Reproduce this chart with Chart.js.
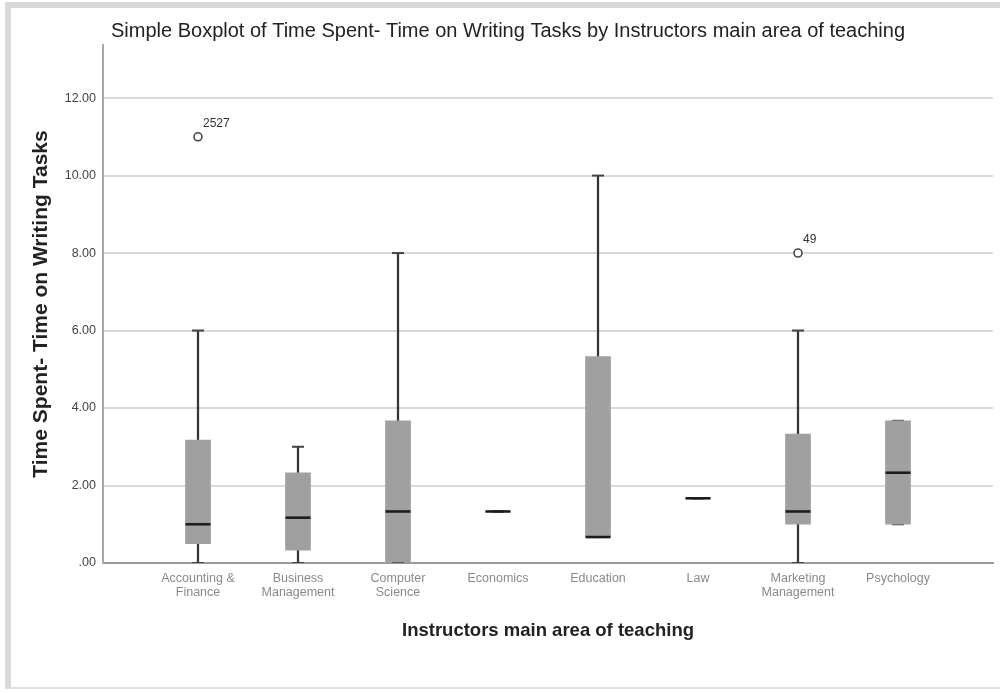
<!DOCTYPE html>
<html>
<head>
<meta charset="utf-8">
<script src="https://cdn.jsdelivr.net/npm/chart.js@4/dist/chart.umd.min.js"></script>
<style>
  html, body { margin: 0; padding: 0; background: #ffffff; }
  #frame {
    position: absolute; left: 5px; top: 2px; width: 995px; height: 687px;
    border-top: 6px solid #d9d9d9; border-left: 6px solid #d9d9d9; border-bottom: 2px solid #e0e0e0;
    box-sizing: border-box;
  }
  #chart { position: absolute; left: 0; top: 0; }
</style>
</head>
<body>
<div id="frame"></div>
<canvas id="chart" width="1000" height="693"></canvas>
<script>
// Teaching areas along the x axis
const categories = ['Accounting & Finance', 'Business Management', 'Computer Science', 'Economics',
                    'Education', 'Law', 'Marketing Management', 'Psychology'];
// Two-line tick labels for each area
const categoryLabels = [['Accounting &', 'Finance'], ['Business', 'Management'], ['Computer', 'Science'],
                        'Economics', 'Education', 'Law', ['Marketing', 'Management'], 'Psychology'];

// Five-number summaries (hours)
const whiskerLow  = [0.00, 0.00, 0.00, 1.33, 0.67, 1.67, 0.00, 1.00];
const quartile1   = [0.50, 0.33, 0.00, 1.33, 0.67, 1.67, 1.00, 1.00];
const medians     = [1.00, 1.17, 1.33, 1.33, 0.67, 1.67, 1.33, 2.33];
const quartile3   = [3.17, 2.33, 3.67, 1.33, 5.33, 1.67, 3.33, 3.67];
const whiskerHigh = [6.00, 3.00, 8.00, 1.33, 10.00, 1.67, 6.00, 3.67];

// Outlying cases: category index, value, case id
const outlierCategory = [0, 6];
const outlierValues   = [11, 8];
const outlierIds      = ['2527', '49'];

// Value axis ticks
const yTicks = [0, 2, 4, 6, 8, 10, 12];

const FONT = "'Liberation Sans', Arial, sans-serif";

const boxData = categories.map((_, i) => ({ x: i, y: [quartile1[i], quartile3[i]] }));
const lowWhiskers = categories.map((_, i) => ({ x: i, y: [whiskerLow[i], quartile1[i]] }));
const highWhiskers = categories.map((_, i) => ({ x: i, y: [quartile3[i], whiskerHigh[i]] }));
const capData = categories.flatMap((_, i) => [{ x: i, y: whiskerLow[i] }, { x: i, y: whiskerHigh[i] }]);
const medianData = categories.map((_, i) => ({ x: i, y: medians[i] }));
const outlierData = outlierValues.map((v, k) => ({ x: outlierCategory[k], y: v }));

// Case ids written beside the outlier circles
const outlierLabels = {
  id: 'outlierLabels',
  afterDatasetsDraw(chart) {
    const meta = chart.getDatasetMeta(chart.data.datasets.findIndex(d => d.label === 'Outliers'));
    const ctx = chart.ctx;
    ctx.save();
    ctx.font = '12px ' + FONT;
    ctx.fillStyle = '#333333';
    ctx.textAlign = 'left';
    ctx.textBaseline = 'middle';
    meta.data.forEach((pt, k) => {
      ctx.fillText(outlierIds[k], pt.x + 5, pt.y - 13);
    });
    ctx.restore();
  }
};

new Chart(document.getElementById('chart'), {
  type: 'bar',
  data: {
    datasets: [
      { label: 'Lower whisker', data: lowWhiskers, backgroundColor: '#333333', barThickness: 1.6,
        grouped: false, order: 5 },
      { label: 'Upper whisker', data: highWhiskers, backgroundColor: '#333333', barThickness: 1.6,
        grouped: false, order: 5 },
      { type: 'scatter', label: 'Caps', data: capData, pointStyle: 'line', radius: 6,
        borderColor: '#444444', borderWidth: 2, hoverRadius: 6, order: 4 },
      { label: 'Box', data: boxData, backgroundColor: '#a0a0a1', borderWidth: 0,
        barThickness: 25, grouped: false, order: 3 },
      { type: 'scatter', label: 'Median', data: medianData, pointStyle: 'line', radius: 12.5,
        borderColor: '#1c1c1c', borderWidth: 2.6, hoverRadius: 12.5, order: 2 },
      { type: 'scatter', label: 'Outliers', data: outlierData, pointStyle: 'circle', radius: 4,
        borderColor: '#444444', borderWidth: 1.6, backgroundColor: '#ffffff', order: 1 }
    ]
  },
  options: {
    responsive: false,
    animation: false,
    events: [],
    layout: { autoPadding: false, padding: { left: 23, right: 7, top: 0, bottom: 0 } },
    plugins: {
      legend: { display: false },
      tooltip: { enabled: false },
      title: {
        display: true,
        text: 'Simple Boxplot of Time Spent- Time on Writing Tasks by Instructors main area of teaching',
        color: '#222222',
        font: { family: FONT, size: 20, weight: 'normal', lineHeight: 1.2 },
        padding: { top: 19, bottom: 2 }
      }
    },
    scales: {
      x: {
        type: 'linear',
        offset: false,
        min: -0.95,
        max: 7.95,
        afterFit(scale) {
          scale.height = 130;
          scale.paddingLeft = 0;
          scale.paddingRight = 0;
        },
        afterBuildTicks(scale) { scale.ticks = categories.map((_, i) => ({ value: i })); },
        ticks: {
          autoSkip: false,
          maxRotation: 0,
          padding: 8,
          color: '#8a8a8a',
          font: { family: FONT, size: 12.5, lineHeight: 1.15 },
          callback: (v) => categoryLabels[v]
        },
        grid: { display: false, drawTicks: false, offset: false },
        border: { display: true, color: '#9a9a9a', width: 2 },
        title: {
          display: true,
          text: 'Instructors main area of teaching',
          color: '#222222',
          font: { family: FONT, size: 18.5, weight: 'bold', lineHeight: 1.2 },
          padding: { top: 0, bottom: 51 }
        }
      },
      y: {
        type: 'linear',
        min: 0,
        max: 13.37,
        afterFit(scale) { scale.width = 80; },
        afterBuildTicks(scale) { scale.ticks = yTicks.map(v => ({ value: v })); },
        ticks: {
          padding: 7,
          color: '#444444',
          font: { family: FONT, size: 12.5 },
          callback: (v) => (v === 0 ? '.00' : v.toFixed(2))
        },
        grid: { color: '#d9d9d9', lineWidth: 2, drawTicks: false },
        border: { display: true, color: '#a8a8a8', width: 2 },
        title: {
          display: true,
          text: 'Time Spent- Time on Writing Tasks',
          color: '#222222',
          font: { family: FONT, size: 21, weight: 'bold', lineHeight: 1.2 },
          padding: { top: 6 }
        }
      }
    }
  },
  plugins: [outlierLabels]
});
</script>
</body>
</html>
